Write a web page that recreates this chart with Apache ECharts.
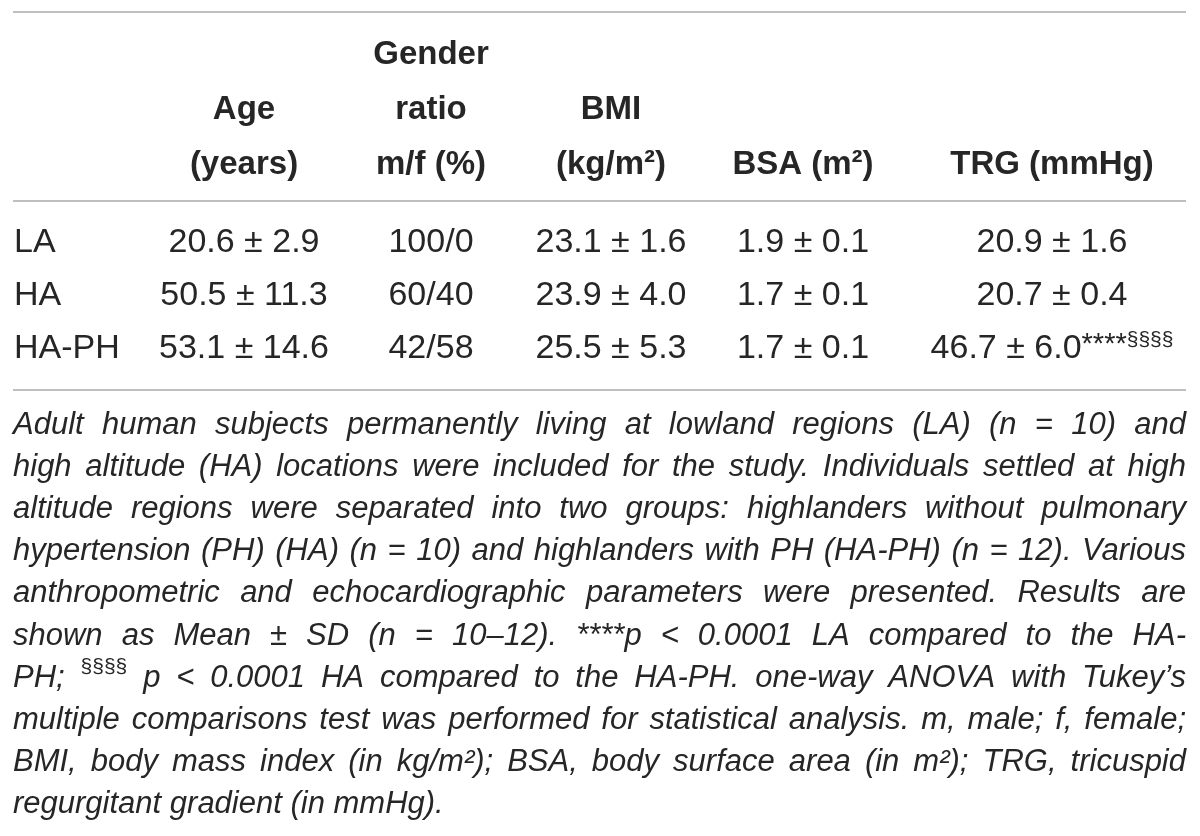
<!DOCTYPE html>
<html>
<head>
<meta charset="utf-8">
<title>Table</title>
<script src="https://cdn.jsdelivr.net/npm/echarts@6/dist/echarts.min.js"></script>
<style>
  html, body { margin: 0; padding: 0; background: #fff; }
  #chart { width: 1200px; height: 836px; }
</style>
</head>
<body>
<div id="chart"></div>
<script>
// ---- data ----
const groups = ['LA', 'HA', 'HA-PH'];
const ageMean = [20.6, 50.5, 53.1];
const ageSd = [2.9, 11.3, 14.6];
const maleShare = [100, 60, 42];
const femaleShare = [0, 40, 58];
const bmiMean = [23.1, 23.9, 25.5];
const bmiSd = [1.6, 4.0, 5.3];
const bsaMean = [1.9, 1.7, 1.7];
const bsaSd = [0.1, 0.1, 0.1];
const trgMean = [20.9, 20.7, 46.7];
const trgSd = [1.6, 0.4, 6.0];
const trgStars = ['', '', '****'];
const trgSection = ['', '', '§§§§'];

const headerLines = [
  ['', '', 'Gender', '', '', ''],
  ['', 'Age', 'ratio', 'BMI', '', ''],
  ['', '(years)', 'm/f (%)', '(kg/m²)', 'BSA (m²)', 'TRG (mmHg)']
];

const captionLines = [
  'Adult human subjects permanently living at lowland regions (LA) (n = 10) and',
  'high altitude (HA) locations were included for the study. Individuals settled at high',
  'altitude regions were separated into two groups: highlanders without pulmonary',
  'hypertension (PH) (HA) (n = 10) and highlanders with PH (HA-PH) (n = 12). Various',
  'anthropometric and echocardiographic parameters were presented. Results are',
  'shown as Mean ± SD (n = 10–12). ****p < 0.0001 LA compared to the HA-',
  'PH; {sup|§§§§} p < 0.0001 HA compared to the HA-PH. one-way ANOVA with Tukey’s',
  'multiple comparisons test was performed for statistical analysis. m, male; f, female;',
  'BMI, body mass index (in kg/m²); BSA, body surface area (in m²); TRG, tricuspid',
  'regurgitant gradient (in mmHg).'
];

// ---- layout ----
const FONT = '"Liberation Sans", Arial, Helvetica, sans-serif';
const INK = '#262626';
const colX = [14, 244, 431, 611, 803, 1052];
const headerY = [55, 110, 165];
const rowY = [243, 296, 349];
const ruleY = [12, 201, 390];
const left = 13, right = 1186;
const capY0 = 425, capStep = 42.2;

const pm = (m, s) => m.toFixed(1) + ' ± ' + s.toFixed(1);

const fonts = {
  head: { fontSize: 33, fontWeight: 'bold', fontStyle: 'normal' },
  body: { fontSize: 34, fontWeight: 'normal', fontStyle: 'normal' },
  cap: { fontSize: 31, fontWeight: 'normal', fontStyle: 'italic' }
};
const richStyles = {
  sup: { fontSize: 21, fontFamily: FONT, fill: INK, verticalAlign: 'top', lineHeight: 22 },
  ast: { fontSize: 29, fontFamily: FONT, fill: INK, verticalAlign: 'top', lineHeight: 30 }
};

const measureCtx = document.createElement('canvas').getContext('2d');
function textWidth(str, f) {
  const sup = str.match(/^\{sup\|(.*)\}$/);
  if (sup) {
    measureCtx.font = f.fontStyle + ' ' + richStyles.sup.fontSize + 'px ' + FONT;
    return measureCtx.measureText(sup[1]).width;
  }
  measureCtx.font = f.fontStyle + ' ' + f.fontWeight + ' ' + f.fontSize + 'px ' + FONT;
  return measureCtx.measureText(str).width;
}

const items = [];
headerLines.forEach((line, r) => {
  line.forEach((t, c) => {
    if (t) items.push({ x: colX[c], y: headerY[r], text: t, kind: 'head', align: 'center' });
  });
});
groups.forEach((g, r) => {
  const marks = (trgStars[r] ? '{ast|' + trgStars[r] + '}' : '') +
    (trgSection[r] ? '{sup|' + trgSection[r] + '}' : '');
  const cells = [
    g,
    pm(ageMean[r], ageSd[r]),
    maleShare[r] + '/' + femaleShare[r],
    pm(bmiMean[r], bmiSd[r]),
    pm(bsaMean[r], bsaSd[r]),
    pm(trgMean[r], trgSd[r]) + marks
  ];
  cells.forEach((t, c) => {
    items.push({ x: colX[c], y: rowY[r], text: t, kind: 'body', align: c === 0 ? 'left' : 'center' });
  });
});

// justified caption, one element per word
captionLines.forEach((line, i) => {
  const words = line.split(' ');
  const widths = words.map(w => textWidth(w, fonts.cap));
  const total = widths.reduce((a, b) => a + b, 0);
  const last = i === captionLines.length - 1;
  const gap = last ? textWidth(' ', fonts.cap) : (right - left - total) / (words.length - 1);
  let x = left;
  words.forEach((w, k) => {
    items.push({ x: x, y: capY0 + i * capStep, text: w, kind: 'cap', align: 'left' });
    x += widths[k] + gap;
  });
});

const chart = echarts.init(document.getElementById('chart'), null, { renderer: 'canvas' });

chart.setOption({
  animation: false,
  backgroundColor: '#ffffff',
  grid: { left: 0, right: 0, top: 0, bottom: 0 },
  xAxis: { type: 'value', min: 0, max: 1200, show: false },
  yAxis: { type: 'value', min: 0, max: 836, inverse: true, show: false },
  series: [
    {
      type: 'custom',
      silent: true,
      clip: false,
      data: ruleY.map(y => [left, y, right]),
      renderItem: (params, api) => {
        const a = api.coord([api.value(0), api.value(1)]);
        const b = api.coord([api.value(2), api.value(1)]);
        return {
          type: 'line',
          shape: { x1: a[0], y1: a[1], x2: b[0], y2: b[1] },
          style: { stroke: '#bfbfbf', lineWidth: 2 }
        };
      }
    },
    {
      type: 'custom',
      silent: true,
      clip: false,
      data: items.map(d => [d.x, d.y]),
      renderItem: (params, api) => {
        const d = items[params.dataIndex];
        const p = api.coord([api.value(0), api.value(1)]);
        const f = fonts[d.kind];
        const onlySup = /^\{sup\|/.test(d.text);
        return {
          type: 'text',
          x: p[0],
          y: onlySup ? p[1] - 10 : p[1],
          style: {
            text: d.text,
            fill: INK,
            fontFamily: FONT,
            fontSize: f.fontSize,
            fontWeight: f.fontWeight,
            fontStyle: f.fontStyle,
            align: d.align,
            verticalAlign: 'middle',
            lineHeight: 38,
            rich: richStyles
          }
        };
      }
    }
  ]
});
</script>
</body>
</html>
